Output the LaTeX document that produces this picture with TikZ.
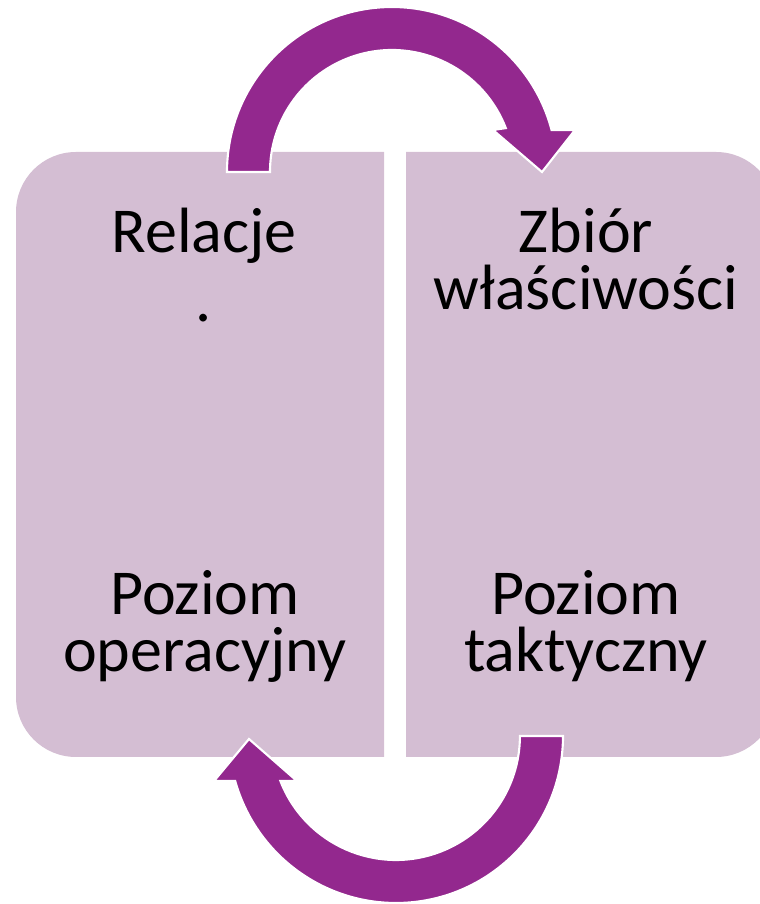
\documentclass[tikz,border=0pt]{standalone}
\usepackage{fontspec}
\setmainfont{Carlito}
\definecolor{boxfill}{RGB}{212,190,211}
\definecolor{arrowfill}{RGB}{147,40,142}
\tikzset{
  panel/.style={fill=boxfill, draw=none, rounded corners=45pt},
  cyclearrow/.style={fill=arrowfill, draw=white, line width=1.6pt, line join=miter},
  label/.style={anchor=base, inner sep=0pt, align=center,
    font=\fontsize{48pt}{42.75pt}\selectfont, text=black}
}
\begin{document}
\begin{tikzpicture}[x=0.75pt, y=0.75pt]
\useasboundingbox (0,0) rectangle (760,904);

% left panel: rounded on the outer (left) side only
\begin{scope}
  \clip (0,0) rectangle (384,904);
  \path[panel] (16,147) rectangle (460,752);
\end{scope}
% right panel: rounded on the outer (right) side only
\begin{scope}
  \clip (406,0) rectangle (760,904);
  \path[panel] (330,147) rectangle (776,752);
\end{scope}

% upper arrow: from the left panel over to the right panel
\path[cyclearrow] (227,732) arc[start angle=180, end angle=14.7, radius=165]
  -- (575,774) -- (542,732) -- (493,774) -- (505.8,775.9)
  arc[start angle=21.1, end angle=180, radius=122] -- cycle;

% lower arrow: from the right panel back to the left panel
\path[cyclearrow] (563,168) arc[start angle=0, end angle=-164.4, radius=167]
  -- (214,123) -- (249,165) -- (297,123) -- (280.4,123)
  arc[start angle=-158.7, end angle=0, radius=124] -- cycle;

% texts, one node per paragraph (anchored on the last line's baseline)
\node[label] (relacje) at (204,582) {Relacje\\[9pt].};
\node[label] (zbior)   at (586,594) {Zbiór\\właściwości};
\node[label] (poziomL) at (205,232) {Poziom\\operacyjny};
\node[label] (poziomR) at (586,232) {Poziom\\taktyczny};
\end{tikzpicture}
\end{document}
